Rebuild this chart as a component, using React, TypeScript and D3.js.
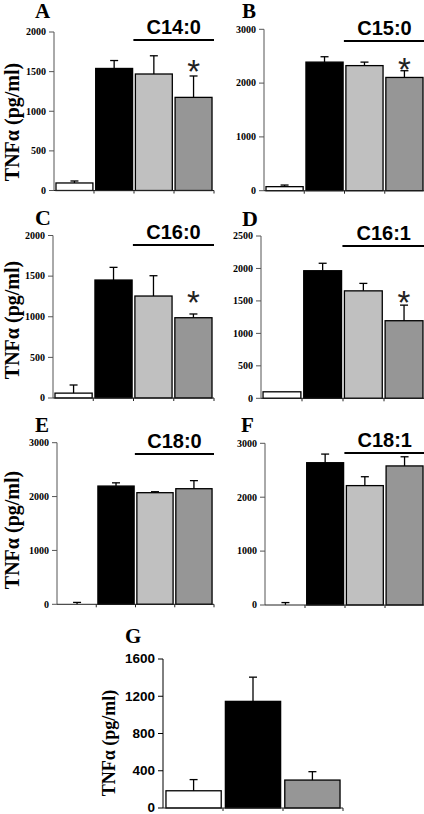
import React from "react";
import * as d3 from "d3";

// ---- data ----
const groups4 = ["control", "LPS", "LPS+FA low", "LPS+FA high"];
const groups3 = ["control", "LPS", "LPS+FA"];
const colors4 = ["#ffffff", "#000000", "#c0c0c0", "#969696"];
const colors3 = ["#ffffff", "#000000", "#969696"];

const valuesA = [95, 1540, 1470, 1175];
const errorsA = [25, 100, 230, 270];
const ticksA = [0, 500, 1000, 1500, 2000];

const valuesB = [75, 2390, 2325, 2105];
const errorsB = [30, 100, 65, 125];
const ticksB = [0, 1000, 2000, 3000];

const valuesC = [60, 1452, 1255, 988];
const errorsC = [100, 156, 250, 46];
const ticksC = [0, 500, 1000, 1500, 2000];

const valuesD = [100, 1965, 1655, 1195];
const errorsD = [0, 115, 115, 240];
const ticksD = [0, 500, 1000, 1500, 2000, 2500];

const valuesE = [0, 2195, 2072, 2146];
const errorsE = [35, 60, 18, 150];
const ticksE = [0, 1000, 2000, 3000];

const valuesF = [0, 2640, 2215, 2580];
const errorsF = [45, 160, 165, 170];
const ticksF = [0, 1000, 2000, 3000];

const valuesG = [185, 1145, 300];
const errorsG = [120, 260, 90];
const ticksG = [0, 400, 800, 1200, 1600];

const titles = ["C14:0", "C15:0", "C16:0", "C16:1", "C18:0", "C18:1"];
const letters = ["A", "B", "C", "D", "E", "F", "G"];
const starValues = [1610, 2400, 1280, 1605];
const yTitle = "TNFα (pg/ml)";

const SERIF = "'Liberation Serif', 'Times New Roman', serif";
const SANS = "'Liberation Sans', Arial, sans-serif";

type PanelProps = {
  cats: string[];
  values: number[];
  errors: number[];
  colors: string[];
  ticks: number[];
  yMax: number;
  x0: number;
  x1: number;
  yBottom: number;
  yTop: number;
  title?: string;
  titleBaseline?: number;
  star?: number;
  letter: string;
  letterX: number;
  letterY: number;
  letterSize?: number;
  tickFont?: string;
  tickSize?: number;
  axisColor?: string;
};

function Panel(p: PanelProps) {
  const x = d3
    .scaleBand<string>()
    .domain(p.cats)
    .range([p.x0, p.x1])
    .paddingInner(0.07)
    .paddingOuter(0.05);
  const y = d3.scaleLinear().domain([0, p.yMax]).range([p.yBottom, p.yTop]);
  const step = (p.x1 - p.x0) / p.cats.length;
  const bw = x.bandwidth();
  const capW = 8;
  const tickFont = p.tickFont || SERIF;
  const tickSize = p.tickSize || 10;
  const axisColor = p.axisColor || "#555";
  const lastTwoStart = x(p.cats[p.cats.length - 2])! - 2;
  return (
    <g>
      <text
        x={p.letterX}
        y={p.letterY}
        fontFamily={SERIF}
        fontWeight="bold"
        fontSize={p.letterSize || 21}
      >
        {p.letter}
      </text>
      {/* y axis */}
      <line x1={p.x0} x2={p.x0} y1={y(0)} y2={y(p.yMax)} stroke={axisColor} strokeWidth={1} />
      {p.ticks.map((t) => (
        <g key={t}>
          <line x1={p.x0 - 5} x2={p.x0} y1={y(t)} y2={y(t)} stroke={axisColor} strokeWidth={1} />
          <text
            x={p.x0 - 8}
            y={y(t)}
            dy="0.33em"
            textAnchor="end"
            fontFamily={tickFont}
            fontWeight="bold"
            fontSize={tickSize}
          >
            {t}
          </text>
        </g>
      ))}
      {/* bars */}
      {p.cats.map((c, i) => (
        <rect
          key={c}
          x={x(c)}
          y={y(p.values[i])}
          width={bw}
          height={Math.max(0, y(0) - y(p.values[i]))}
          fill={p.colors[i]}
          stroke="#000"
          strokeWidth={p.values[i] > 0 ? 1.3 : 0}
        />
      ))}
      {/* error bars */}
      {p.cats.map((c, i) =>
        p.errors[i] > 0 ? (
          <g key={c}>
            <line
              x1={x(c)! + bw / 2}
              x2={x(c)! + bw / 2}
              y1={y(p.values[i])}
              y2={y(p.values[i] + p.errors[i])}
              stroke="#000"
              strokeWidth={1.3}
            />
            <line
              x1={x(c)! + bw / 2 - capW / 2}
              x2={x(c)! + bw / 2 + capW / 2}
              y1={y(p.values[i] + p.errors[i])}
              y2={y(p.values[i] + p.errors[i])}
              stroke="#000"
              strokeWidth={1.3}
            />
          </g>
        ) : null
      )}
      {/* x axis */}
      <line x1={p.x0} x2={p.x1} y1={y(0)} y2={y(0)} stroke="#222" strokeWidth={1} />
      {p.cats.map((c, i) => (
        <line
          key={c}
          x1={p.x0 + step * (i + 1)}
          x2={p.x0 + step * (i + 1)}
          y1={y(0)}
          y2={y(0) + 3}
          stroke="#222"
          strokeWidth={1}
        />
      ))}
      {p.title ? (
        <g>
          <text
            x={(lastTwoStart + p.x1) / 2}
            y={p.titleBaseline}
            textAnchor="middle"
            fontFamily={SANS}
            fontWeight="bold"
            fontSize={20}
          >
            {p.title}
          </text>
          <line
            x1={lastTwoStart}
            x2={p.x1}
            y1={p.titleBaseline! + 6}
            y2={p.titleBaseline! + 6}
            stroke="#000"
            strokeWidth={2}
          />
        </g>
      ) : null}
      {p.star !== undefined ? (
        <text
          x={x(p.cats[p.cats.length - 1])! + bw / 2}
          y={y(p.star)}
          dy="0.6em"
          textAnchor="middle"
          fontFamily={SANS}
          fontSize={33}
          fill="#222"
        >
          *
        </text>
      ) : null}
    </g>
  );
}

function YTitle({ x, y, size }: { x: number; y: number; size: number }) {
  return (
    <text
      transform={`translate(${x},${y}) rotate(-90)`}
      textAnchor="middle"
      fontFamily={SERIF}
      fontWeight="bold"
      fontSize={size}
    >
      {yTitle}
    </text>
  );
}

export default function App() {
  return (
    <svg
      width={424}
      height={814}
      style={{ position: "absolute", left: 0, top: 0, background: "#fff" }}
    >
      <rect width={424} height={814} fill="#fff" />
      <YTitle x={19} y={122} size={20} />
      <YTitle x={19} y={320} size={20} />
      <YTitle x={19} y={530} size={20} />
      <YTitle x={115} y={743} size={18} />

      <Panel cats={groups4} values={valuesA} errors={errorsA} colors={colors4} ticks={ticksA} yMax={2000}
        x0={54} x1={214} yBottom={190.5} yTop={32} title={titles[0]} titleBaseline={34} star={starValues[0]}
        letter={letters[0]} letterX={35} letterY={18} />
      <Panel cats={groups4} values={valuesB} errors={errorsB} colors={colors4} ticks={ticksB} yMax={3000}
        x0={264} x1={425} yBottom={190.7} yTop={29.3} title={titles[1]} titleBaseline={35} star={starValues[1]}
        letter={letters[1]} letterX={242} letterY={18} />
      <Panel cats={groups4} values={valuesC} errors={errorsC} colors={colors4} ticks={ticksC} yMax={2000}
        x0={53} x1={214} yBottom={398} yTop={235.5} title={titles[2]} titleBaseline={239} star={starValues[2]}
        letter={letters[2]} letterX={35} letterY={225} letterSize={22} />
      <Panel cats={groups4} values={valuesD} errors={errorsD} colors={colors4} ticks={ticksD} yMax={2500}
        x0={261} x1={425} yBottom={398.3} yTop={236} title={titles[3]} titleBaseline={240} star={starValues[3]}
        letter={letters[3]} letterX={242} letterY={226} letterSize={22} />
      <Panel cats={groups4} values={valuesE} errors={errorsE} colors={colors4} ticks={ticksE} yMax={3000}
        x0={57} x1={214} yBottom={604.3} yTop={442.7} title={titles[4]} titleBaseline={448}
        letter={letters[4]} letterX={35} letterY={432} />
      <Panel cats={groups4} values={valuesF} errors={errorsF} colors={colors4} ticks={ticksF} yMax={3000}
        x0={265} x1={425} yBottom={605} yTop={443.3} title={titles[5]} titleBaseline={447}
        letter={letters[5]} letterX={241} letterY={432} />
      <Panel cats={groups3} values={valuesG} errors={errorsG} colors={colors3} ticks={ticksG} yMax={1600}
        x0={163} x1={343} yBottom={808} yTop={659}
        letter={letters[6]} letterX={125} letterY={643} tickFont={SANS} tickSize={13.5} axisColor="#000" />
    </svg>
  );
}
